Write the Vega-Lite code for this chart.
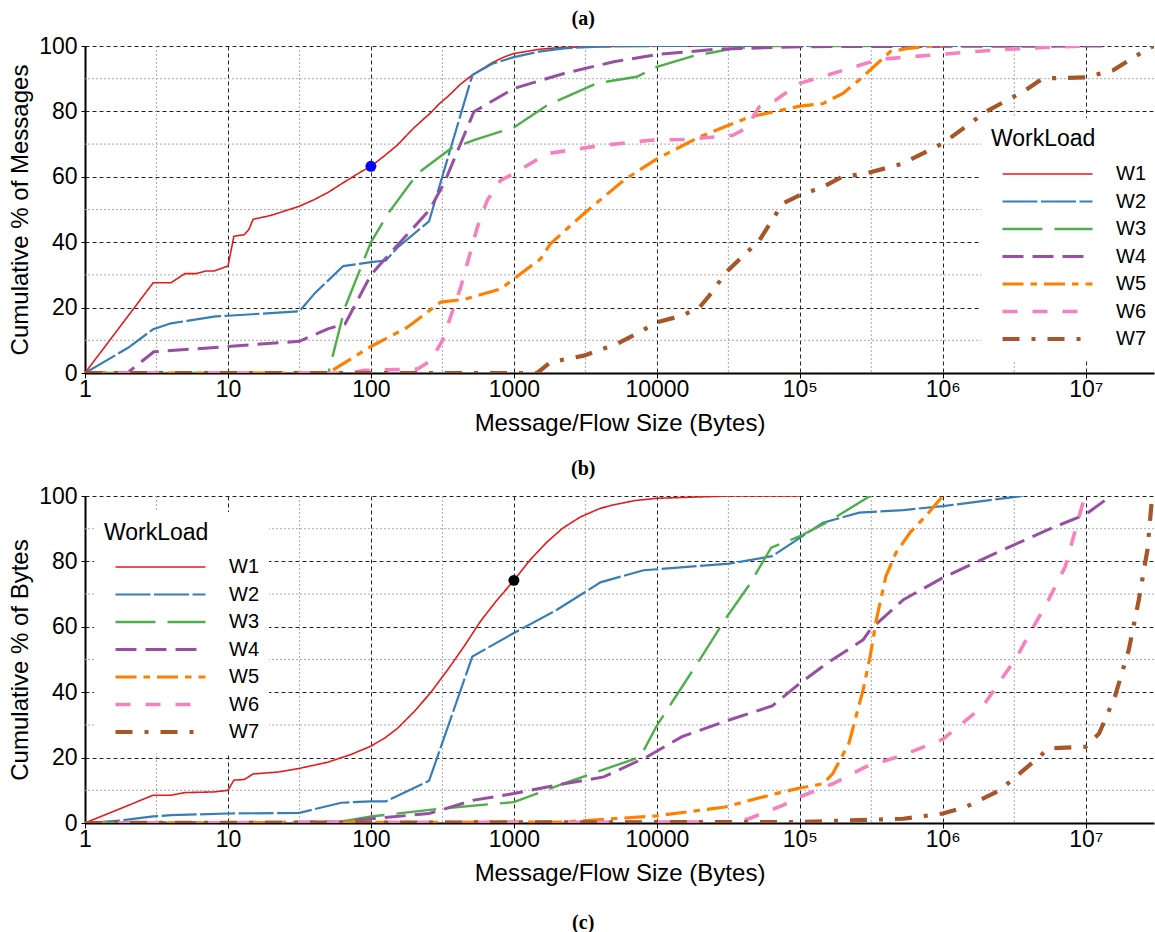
{
  "$schema": "https://vega.github.io/schema/vega-lite/v6.json",
  "autosize": {"type": "pad"},
  "padding": {"left": 8, "top": 8, "right": 0, "bottom": 0},
  "background": "white",
  "config": {
    "font": "Liberation Sans",
    "view": {"stroke": null},
    "axis": {
      "labelFont": "Liberation Sans",
      "titleFont": "Liberation Sans",
      "labelFontSize": 23,
      "titleFontSize": 24,
      "labelColor": "black",
      "titleColor": "black",
      "titleFontWeight": "normal",
      "domainColor": "black",
      "domainWidth": 2,
      "tickColor": "black",
      "tickSize": 5,
      "gridColor": "#222222",
      "gridDash": [4, 3],
      "gridOpacity": 1,
      "gridWidth": 1,
      "labelFlush": false,
      "labelOverlap": false
    },
    "legend": {
      "titleFont": "Liberation Sans",
      "labelFont": "Liberation Sans",
      "titleFontSize": 23,
      "labelFontSize": 20,
      "titleFontWeight": "normal",
      "titleColor": "black",
      "labelColor": "black",
      "fillColor": "white",
      "padding": 10,
      "symbolType": "stroke",
      "symbolSize": 8100,
      "clipHeight": 22,
      "rowPadding": 5.5,
      "labelOffset": 21,
      "symbolOffset": 9
    }
  },
  "datasets": {
    "gridx": [
      {"x": 3.1623}, {"x": 31.623}, {"x": 316.23}, {"x": 3162.3},
      {"x": 31623}, {"x": 316228}, {"x": 3162278}, {"x": 31622777}
    ],
    "gridy": [{"y": 10}, {"y": 30}, {"y": 50}, {"y": 70}, {"y": 90}],
    "messages": [
      {"w": "W1", "x": 1, "y": 0}, {"w": "W1", "x": 3, "y": 27.6}, {"w": "W1", "x": 4, "y": 27.6},
      {"w": "W1", "x": 5, "y": 30.4}, {"w": "W1", "x": 6, "y": 30.4}, {"w": "W1", "x": 7, "y": 31.2},
      {"w": "W1", "x": 8, "y": 31.2}, {"w": "W1", "x": 10, "y": 32.7}, {"w": "W1", "x": 11, "y": 41.8},
      {"w": "W1", "x": 13, "y": 42.3}, {"w": "W1", "x": 14, "y": 43.9}, {"w": "W1", "x": 15, "y": 47},
      {"w": "W1", "x": 20, "y": 48.2}, {"w": "W1", "x": 31.6, "y": 51}, {"w": "W1", "x": 40, "y": 53},
      {"w": "W1", "x": 50, "y": 55.2}, {"w": "W1", "x": 63, "y": 58}, {"w": "W1", "x": 85, "y": 61.5},
      {"w": "W1", "x": 100, "y": 63.2}, {"w": "W1", "x": 125, "y": 66.5}, {"w": "W1", "x": 153, "y": 69.7},
      {"w": "W1", "x": 200, "y": 75}, {"w": "W1", "x": 262, "y": 79.6}, {"w": "W1", "x": 300, "y": 82.3},
      {"w": "W1", "x": 350, "y": 84.8}, {"w": "W1", "x": 420, "y": 88.2}, {"w": "W1", "x": 500, "y": 90.8},
      {"w": "W1", "x": 600, "y": 93}, {"w": "W1", "x": 700, "y": 94.8}, {"w": "W1", "x": 850, "y": 96.6},
      {"w": "W1", "x": 1000, "y": 97.7}, {"w": "W1", "x": 1500, "y": 99}, {"w": "W1", "x": 2230, "y": 99.6},
      {"w": "W1", "x": 5000, "y": 99.9}, {"w": "W1", "x": 10000, "y": 100}, {"w": "W1", "x": 100000, "y": 100},

      {"w": "W2", "x": 1, "y": 0}, {"w": "W2", "x": 2, "y": 7.7}, {"w": "W2", "x": 3, "y": 13.4},
      {"w": "W2", "x": 4, "y": 15.2}, {"w": "W2", "x": 5.3, "y": 16}, {"w": "W2", "x": 8.2, "y": 17.3},
      {"w": "W2", "x": 10, "y": 17.5}, {"w": "W2", "x": 31.6, "y": 18.9}, {"w": "W2", "x": 40.7, "y": 24.5},
      {"w": "W2", "x": 64, "y": 32.7}, {"w": "W2", "x": 100, "y": 33.9}, {"w": "W2", "x": 127, "y": 34.4},
      {"w": "W2", "x": 153, "y": 38.3}, {"w": "W2", "x": 255, "y": 46.4}, {"w": "W2", "x": 512, "y": 91.1},
      {"w": "W2", "x": 700, "y": 94.5}, {"w": "W2", "x": 1000, "y": 96.6}, {"w": "W2", "x": 1500, "y": 98.3},
      {"w": "W2", "x": 2240, "y": 99.3}, {"w": "W2", "x": 4000, "y": 99.8}, {"w": "W2", "x": 10000, "y": 100},
      {"w": "W2", "x": 3600000, "y": 100},

      {"w": "W3", "x": 1, "y": 0}, {"w": "W3", "x": 50.4, "y": 0}, {"w": "W3", "x": 65.9, "y": 20.1},
      {"w": "W3", "x": 100, "y": 40}, {"w": "W3", "x": 134, "y": 49.2}, {"w": "W3", "x": 212, "y": 61},
      {"w": "W3", "x": 361, "y": 68.6}, {"w": "W3", "x": 525, "y": 71.2}, {"w": "W3", "x": 1000, "y": 75.1},
      {"w": "W3", "x": 1710, "y": 81.9}, {"w": "W3", "x": 3800, "y": 88.6}, {"w": "W3", "x": 7240, "y": 90.6},
      {"w": "W3", "x": 10000, "y": 93.6}, {"w": "W3", "x": 17800, "y": 96.9}, {"w": "W3", "x": 34000, "y": 99.2},
      {"w": "W3", "x": 57000, "y": 100}, {"w": "W3", "x": 300000, "y": 100},

      {"w": "W4", "x": 1, "y": 0}, {"w": "W4", "x": 2, "y": 0.2}, {"w": "W4", "x": 3.03, "y": 6.5},
      {"w": "W4", "x": 10, "y": 8.1}, {"w": "W4", "x": 31.6, "y": 9.7}, {"w": "W4", "x": 50, "y": 13.5},
      {"w": "W4", "x": 65.9, "y": 15}, {"w": "W4", "x": 100, "y": 30}, {"w": "W4", "x": 117, "y": 33.4},
      {"w": "W4", "x": 255, "y": 49.7}, {"w": "W4", "x": 324, "y": 57.9}, {"w": "W4", "x": 525, "y": 79.9},
      {"w": "W4", "x": 1000, "y": 87}, {"w": "W4", "x": 2240, "y": 91.6}, {"w": "W4", "x": 5000, "y": 95.2},
      {"w": "W4", "x": 10000, "y": 97.4}, {"w": "W4", "x": 26000, "y": 99}, {"w": "W4", "x": 100000, "y": 99.8},
      {"w": "W4", "x": 15000000, "y": 100},

      {"w": "W5", "x": 1, "y": 0}, {"w": "W5", "x": 50, "y": 0}, {"w": "W5", "x": 100, "y": 8.1},
      {"w": "W5", "x": 180, "y": 14}, {"w": "W5", "x": 308, "y": 21.7}, {"w": "W5", "x": 448, "y": 22.5},
      {"w": "W5", "x": 807, "y": 25.7}, {"w": "W5", "x": 1000, "y": 28.8}, {"w": "W5", "x": 1535, "y": 34.9},
      {"w": "W5", "x": 1800, "y": 39.5}, {"w": "W5", "x": 3080, "y": 48.7}, {"w": "W5", "x": 5850, "y": 58.9},
      {"w": "W5", "x": 10000, "y": 65.5}, {"w": "W5", "x": 19900, "y": 72.2}, {"w": "W5", "x": 44400, "y": 78.3},
      {"w": "W5", "x": 100000, "y": 81.6}, {"w": "W5", "x": 145000, "y": 82.4}, {"w": "W5", "x": 200000, "y": 85.5},
      {"w": "W5", "x": 260000, "y": 89.6}, {"w": "W5", "x": 430000, "y": 98.3}, {"w": "W5", "x": 575000, "y": 99.3},
      {"w": "W5", "x": 840000, "y": 100}, {"w": "W5", "x": 1000000, "y": 100},

      {"w": "W6", "x": 1, "y": 0}, {"w": "W6", "x": 70, "y": 0}, {"w": "W6", "x": 90, "y": 0.8},
      {"w": "W6", "x": 212, "y": 1.2}, {"w": "W6", "x": 262, "y": 3.8}, {"w": "W6", "x": 316, "y": 9.9},
      {"w": "W6", "x": 425, "y": 26.3}, {"w": "W6", "x": 555, "y": 44.6}, {"w": "W6", "x": 651, "y": 52.8},
      {"w": "W6", "x": 807, "y": 58.9}, {"w": "W6", "x": 1000, "y": 61}, {"w": "W6", "x": 1710, "y": 67.1},
      {"w": "W6", "x": 3800, "y": 69.4}, {"w": "W6", "x": 9000, "y": 71.2}, {"w": "W6", "x": 15200, "y": 71.4},
      {"w": "W6", "x": 23000, "y": 72}, {"w": "W6", "x": 34000, "y": 72.7}, {"w": "W6", "x": 42000, "y": 74.8},
      {"w": "W6", "x": 52000, "y": 81.4}, {"w": "W6", "x": 68000, "y": 83.5}, {"w": "W6", "x": 76000, "y": 85},
      {"w": "W6", "x": 100000, "y": 88.6}, {"w": "W6", "x": 170000, "y": 91.6}, {"w": "W6", "x": 290000, "y": 94.7},
      {"w": "W6", "x": 380000, "y": 96}, {"w": "W6", "x": 1000000, "y": 97.5}, {"w": "W6", "x": 1700000, "y": 98.3},
      {"w": "W6", "x": 2900000, "y": 99}, {"w": "W6", "x": 5500000, "y": 99.6}, {"w": "W6", "x": 10000000, "y": 100},

      {"w": "W7", "x": 1, "y": 0}, {"w": "W7", "x": 1455, "y": 0}, {"w": "W7", "x": 1800, "y": 3.3},
      {"w": "W7", "x": 3080, "y": 5.3}, {"w": "W7", "x": 5250, "y": 8.9}, {"w": "W7", "x": 7240, "y": 12},
      {"w": "W7", "x": 10000, "y": 15.5}, {"w": "W7", "x": 15100, "y": 17.6}, {"w": "W7", "x": 19900, "y": 20.1},
      {"w": "W7", "x": 23300, "y": 23.7}, {"w": "W7", "x": 30500, "y": 30.8}, {"w": "W7", "x": 52000, "y": 40.5},
      {"w": "W7", "x": 75700, "y": 51.8}, {"w": "W7", "x": 99000, "y": 54.3}, {"w": "W7", "x": 145000, "y": 56.9},
      {"w": "W7", "x": 198000, "y": 60}, {"w": "W7", "x": 290000, "y": 61}, {"w": "W7", "x": 520000, "y": 64},
      {"w": "W7", "x": 1000000, "y": 70.2}, {"w": "W7", "x": 2000000, "y": 79.9}, {"w": "W7", "x": 3800000, "y": 86.5},
      {"w": "W7", "x": 5000000, "y": 90.1}, {"w": "W7", "x": 10000000, "y": 90.4}, {"w": "W7", "x": 15500000, "y": 92.6},
      {"w": "W7", "x": 27500000, "y": 99.3}, {"w": "W7", "x": 30000000, "y": 100}
    ],
    "bytes": [
      {"w": "W1", "x": 1, "y": 0}, {"w": "W1", "x": 3, "y": 8.5}, {"w": "W1", "x": 4, "y": 8.5},
      {"w": "W1", "x": 5, "y": 9.3}, {"w": "W1", "x": 8, "y": 9.5}, {"w": "W1", "x": 10, "y": 10},
      {"w": "W1", "x": 11, "y": 13.1}, {"w": "W1", "x": 13, "y": 13.3}, {"w": "W1", "x": 15, "y": 15},
      {"w": "W1", "x": 22.6, "y": 15.6}, {"w": "W1", "x": 31.6, "y": 16.7}, {"w": "W1", "x": 50, "y": 18.6},
      {"w": "W1", "x": 73, "y": 21}, {"w": "W1", "x": 100, "y": 23.5}, {"w": "W1", "x": 125, "y": 26},
      {"w": "W1", "x": 153, "y": 28.9}, {"w": "W1", "x": 200, "y": 34}, {"w": "W1", "x": 262, "y": 39.9},
      {"w": "W1", "x": 350, "y": 47.3}, {"w": "W1", "x": 448, "y": 54}, {"w": "W1", "x": 584, "y": 61.7},
      {"w": "W1", "x": 750, "y": 67.8}, {"w": "W1", "x": 1000, "y": 74.2}, {"w": "W1", "x": 1300, "y": 80.5},
      {"w": "W1", "x": 1710, "y": 86}, {"w": "W1", "x": 2200, "y": 90.2}, {"w": "W1", "x": 2920, "y": 93.6},
      {"w": "W1", "x": 4000, "y": 96.2}, {"w": "W1", "x": 4990, "y": 97.3}, {"w": "W1", "x": 7000, "y": 98.6},
      {"w": "W1", "x": 10000, "y": 99.3}, {"w": "W1", "x": 31600, "y": 100}, {"w": "W1", "x": 100000, "y": 100},

      {"w": "W2", "x": 1, "y": 0}, {"w": "W2", "x": 1.8, "y": 0.8}, {"w": "W2", "x": 3, "y": 2},
      {"w": "W2", "x": 4, "y": 2.4}, {"w": "W2", "x": 10, "y": 2.9}, {"w": "W2", "x": 31.6, "y": 3.1},
      {"w": "W2", "x": 62, "y": 6.2}, {"w": "W2", "x": 100, "y": 6.6}, {"w": "W2", "x": 127, "y": 6.6},
      {"w": "W2", "x": 255, "y": 12.9}, {"w": "W2", "x": 512, "y": 50.9}, {"w": "W2", "x": 1000, "y": 58.1},
      {"w": "W2", "x": 2000, "y": 65.2}, {"w": "W2", "x": 4030, "y": 73.6}, {"w": "W2", "x": 8070, "y": 77.3},
      {"w": "W2", "x": 10000, "y": 77.6}, {"w": "W2", "x": 32000, "y": 79.3}, {"w": "W2", "x": 64000, "y": 81.6},
      {"w": "W2", "x": 100000, "y": 87.2}, {"w": "W2", "x": 145000, "y": 91.8}, {"w": "W2", "x": 260000, "y": 94.9},
      {"w": "W2", "x": 530000, "y": 95.7}, {"w": "W2", "x": 1000000, "y": 96.9}, {"w": "W2", "x": 3600000, "y": 100},

      {"w": "W3", "x": 1, "y": 0}, {"w": "W3", "x": 60, "y": 0.3}, {"w": "W3", "x": 100, "y": 2},
      {"w": "W3", "x": 308, "y": 4.4}, {"w": "W3", "x": 1000, "y": 6.4}, {"w": "W3", "x": 2240, "y": 12.1},
      {"w": "W3", "x": 7650, "y": 20.2}, {"w": "W3", "x": 10000, "y": 29.8}, {"w": "W3", "x": 19900, "y": 49.9},
      {"w": "W3", "x": 30500, "y": 62.7}, {"w": "W3", "x": 44400, "y": 72.9}, {"w": "W3", "x": 63000, "y": 84.2},
      {"w": "W3", "x": 100000, "y": 87.7}, {"w": "W3", "x": 160000, "y": 92.3}, {"w": "W3", "x": 310000, "y": 100},

      {"w": "W4", "x": 1, "y": 0}, {"w": "W4", "x": 60, "y": 0.3}, {"w": "W4", "x": 100, "y": 1.3},
      {"w": "W4", "x": 255, "y": 2.9}, {"w": "W4", "x": 525, "y": 7}, {"w": "W4", "x": 1000, "y": 9},
      {"w": "W4", "x": 2000, "y": 11.6}, {"w": "W4", "x": 4250, "y": 14.1}, {"w": "W4", "x": 8500, "y": 20.2},
      {"w": "W4", "x": 15000, "y": 26.4}, {"w": "W4", "x": 32000, "y": 31.5}, {"w": "W4", "x": 64000, "y": 35.8},
      {"w": "W4", "x": 100000, "y": 42.7}, {"w": "W4", "x": 155000, "y": 48.9}, {"w": "W4", "x": 277000, "y": 56},
      {"w": "W4", "x": 310000, "y": 59.1}, {"w": "W4", "x": 530000, "y": 68.3}, {"w": "W4", "x": 1000000, "y": 75},
      {"w": "W4", "x": 2500000, "y": 83.1}, {"w": "W4", "x": 5500000, "y": 89.8}, {"w": "W4", "x": 10000000, "y": 94.4},
      {"w": "W4", "x": 15000000, "y": 100},

      {"w": "W5", "x": 1, "y": 0}, {"w": "W5", "x": 2240, "y": 0.3}, {"w": "W5", "x": 10000, "y": 2.2},
      {"w": "W5", "x": 30000, "y": 4.9}, {"w": "W5", "x": 68000, "y": 9}, {"w": "W5", "x": 100000, "y": 10.7},
      {"w": "W5", "x": 145000, "y": 12}, {"w": "W5", "x": 170000, "y": 15.1}, {"w": "W5", "x": 220000, "y": 24.3},
      {"w": "W5", "x": 277000, "y": 40.7}, {"w": "W5", "x": 310000, "y": 50.9}, {"w": "W5", "x": 343000, "y": 62.2},
      {"w": "W5", "x": 400000, "y": 75.5}, {"w": "W5", "x": 470000, "y": 82.6}, {"w": "W5", "x": 590000, "y": 88.8},
      {"w": "W5", "x": 760000, "y": 93.9}, {"w": "W5", "x": 1000000, "y": 100},

      {"w": "W6", "x": 1, "y": 0}, {"w": "W6", "x": 34000, "y": 0.3}, {"w": "W6", "x": 44000, "y": 1.3},
      {"w": "W6", "x": 76000, "y": 5.4}, {"w": "W6", "x": 100000, "y": 8}, {"w": "W6", "x": 170000, "y": 12},
      {"w": "W6", "x": 290000, "y": 17.2}, {"w": "W6", "x": 530000, "y": 20.8}, {"w": "W6", "x": 1000000, "y": 25.6},
      {"w": "W6", "x": 1900000, "y": 35.6}, {"w": "W6", "x": 3300000, "y": 50.9}, {"w": "W6", "x": 5500000, "y": 68.3},
      {"w": "W6", "x": 7200000, "y": 78.5}, {"w": "W6", "x": 9700000, "y": 99}, {"w": "W6", "x": 10000000, "y": 100},

      {"w": "W7", "x": 1, "y": 0}, {"w": "W7", "x": 100000, "y": 0.3}, {"w": "W7", "x": 530000, "y": 1.3},
      {"w": "W7", "x": 1000000, "y": 2.9}, {"w": "W7", "x": 1450000, "y": 4.9}, {"w": "W7", "x": 2500000, "y": 10},
      {"w": "W7", "x": 4300000, "y": 18.7}, {"w": "W7", "x": 5500000, "y": 22.8}, {"w": "W7", "x": 10000000, "y": 23.3},
      {"w": "W7", "x": 12400000, "y": 27.4}, {"w": "W7", "x": 16000000, "y": 38.7}, {"w": "W7", "x": 20000000, "y": 53},
      {"w": "W7", "x": 23500000, "y": 68.3}, {"w": "W7", "x": 27000000, "y": 83.6}, {"w": "W7", "x": 29000000, "y": 99},
      {"w": "W7", "x": 29500000, "y": 100}
    ]
  },
  "title": {"text": "(c)", "orient": "bottom", "anchor": "middle", "offset": 28, "frame": "bounds", "font": "Liberation Serif", "fontWeight": "bold", "fontSize": 20, "color": "black"},
  "spacing": 23,
  "resolve": {
    "scale": {"x": "independent", "y": "independent", "color": "independent", "strokeDash": "independent", "strokeWidth": "independent"},
    "legend": {"color": "independent", "strokeDash": "independent", "strokeWidth": "independent"}
  },
  "vconcat": [
    {
      "width": 1069,
      "height": 327,
      "title": {"text": "(a)", "offset": 6.5, "anchor": "middle", "frame": "bounds", "font": "Liberation Serif", "fontWeight": "bold", "fontSize": 20, "color": "black"},
      "layer": [
        {
          "data": {"name": "gridx"},
          "mark": {"type": "rule", "color": "#aaaaaa", "strokeDash": [2, 2], "strokeWidth": 1},
          "encoding": {"x": {"field": "x", "type": "quantitative", "scale": {"type": "log", "domain": [1, 30000000]}}}
        },
        {
          "data": {"name": "gridy"},
          "mark": {"type": "rule", "color": "#aaaaaa", "strokeDash": [2, 2], "strokeWidth": 1},
          "encoding": {"y": {"field": "y", "type": "quantitative", "scale": {"domain": [0, 100]}}}
        },
        {
          "data": {"name": "messages"},
          "mark": {"type": "line", "clip": true},
          "encoding": {
            "x": {
              "field": "x", "type": "quantitative",
              "scale": {"type": "log", "domain": [1, 30000000]},
              "axis": {
                "title": "Message/Flow Size (Bytes)",
                "values": [1, 10, 100, 1000, 10000, 100000, 1000000, 10000000],
                "labelPadding": 0, "titlePadding": 10,
                "labelExpr": "datum.value == 100000 ? '10⁵' : datum.value == 1000000 ? '10⁶' : datum.value == 10000000 ? '10⁷' : format(datum.value, 'd')"
              }
            },
            "y": {
              "field": "y", "type": "quantitative",
              "scale": {"domain": [0, 100]},
              "axis": {"title": "Cumulative % of Messages", "values": [0, 20, 40, 60, 80, 100], "tickSize": 4, "labelPadding": 4, "titlePadding": 6}
            },
            "color": {
              "field": "w", "type": "nominal", "title": "WorkLoad",
              "scale": {"domain": ["W1", "W2", "W3", "W4", "W5", "W6", "W7"], "range": ["#e41a1c", "#377eb8", "#4daf4a", "#984ea3", "#ff7f00", "#f781bf", "#a65628"]},
              "legend": {"orient": "none", "legendX": 896, "legendY": 72, "titlePadding": 12}
            },
            "strokeDash": {
              "field": "w", "type": "nominal", "title": "WorkLoad",
              "scale": {"domain": ["W1", "W2", "W3", "W4", "W5", "W6", "W7"], "range": [[1, 0], [35, 3.5], [40, 12], [21, 9], [21, 7, 6.5, 7], [15, 15], [17, 12, 4, 12]]},
              "legend": {"orient": "none", "legendX": 896, "legendY": 72, "titlePadding": 12}
            },
            "strokeWidth": {
              "field": "w", "type": "nominal", "title": "WorkLoad",
              "scale": {"type": "ordinal", "domain": ["W1", "W2", "W3", "W4", "W5", "W6", "W7"], "range": [1.6, 2.2, 2.4, 3, 3.2, 3.6, 4.2]},
              "legend": {"orient": "none", "legendX": 896, "legendY": 72, "titlePadding": 12}
            }
          }
        },
        {
          "data": {"values": [{"x": 100, "y": 63.2}]},
          "mark": {"type": "point", "filled": true, "size": 120, "color": "#0000ff", "opacity": 1},
          "encoding": {
            "x": {"field": "x", "type": "quantitative", "scale": {"type": "log", "domain": [1, 30000000]}},
            "y": {"field": "y", "type": "quantitative", "scale": {"domain": [0, 100]}}
          }
        }
      ]
    },
    {
      "width": 1069,
      "height": 327,
      "title": {"text": "(b)", "offset": 6.5, "anchor": "middle", "frame": "bounds", "font": "Liberation Serif", "fontWeight": "bold", "fontSize": 20, "color": "black"},
      "layer": [
        {
          "data": {"name": "gridx"},
          "mark": {"type": "rule", "color": "#aaaaaa", "strokeDash": [2, 2], "strokeWidth": 1},
          "encoding": {"x": {"field": "x", "type": "quantitative", "scale": {"type": "log", "domain": [1, 30000000]}}}
        },
        {
          "data": {"name": "gridy"},
          "mark": {"type": "rule", "color": "#aaaaaa", "strokeDash": [2, 2], "strokeWidth": 1},
          "encoding": {"y": {"field": "y", "type": "quantitative", "scale": {"domain": [0, 100]}}}
        },
        {
          "data": {"name": "bytes"},
          "mark": {"type": "line", "clip": true},
          "encoding": {
            "x": {
              "field": "x", "type": "quantitative",
              "scale": {"type": "log", "domain": [1, 30000000]},
              "axis": {
                "title": "Message/Flow Size (Bytes)",
                "values": [1, 10, 100, 1000, 10000, 100000, 1000000, 10000000],
                "labelPadding": 0, "titlePadding": 10,
                "labelExpr": "datum.value == 100000 ? '10⁵' : datum.value == 1000000 ? '10⁶' : datum.value == 10000000 ? '10⁷' : format(datum.value, 'd')"
              }
            },
            "y": {
              "field": "y", "type": "quantitative",
              "scale": {"domain": [0, 100]},
              "axis": {"title": "Cumulative % of Bytes", "values": [0, 20, 40, 60, 80, 100], "tickSize": 4, "labelPadding": 4, "titlePadding": 6}
            },
            "color": {
              "field": "w", "type": "nominal", "title": "WorkLoad",
              "scale": {"domain": ["W1", "W2", "W3", "W4", "W5", "W6", "W7"], "range": ["#e41a1c", "#377eb8", "#4daf4a", "#984ea3", "#ff7f00", "#f781bf", "#a65628"]},
              "legend": {"orient": "none", "legendX": 9, "legendY": 16, "titlePadding": 11}
            },
            "strokeDash": {
              "field": "w", "type": "nominal", "title": "WorkLoad",
              "scale": {"domain": ["W1", "W2", "W3", "W4", "W5", "W6", "W7"], "range": [[1, 0], [35, 3.5], [40, 12], [21, 9], [21, 7, 6.5, 7], [15, 15], [17, 12, 4, 12]]},
              "legend": {"orient": "none", "legendX": 9, "legendY": 16, "titlePadding": 11}
            },
            "strokeWidth": {
              "field": "w", "type": "nominal", "title": "WorkLoad",
              "scale": {"type": "ordinal", "domain": ["W1", "W2", "W3", "W4", "W5", "W6", "W7"], "range": [1.6, 2.2, 2.4, 3, 3.2, 3.6, 4.2]},
              "legend": {"orient": "none", "legendX": 9, "legendY": 16, "titlePadding": 11}
            }
          }
        },
        {
          "data": {"values": [{"x": 1000, "y": 74.2}]},
          "mark": {"type": "point", "filled": true, "size": 120, "color": "#000000", "opacity": 1},
          "encoding": {
            "x": {"field": "x", "type": "quantitative", "scale": {"type": "log", "domain": [1, 30000000]}},
            "y": {"field": "y", "type": "quantitative", "scale": {"domain": [0, 100]}}
          }
        }
      ]
    }
  ]
}
